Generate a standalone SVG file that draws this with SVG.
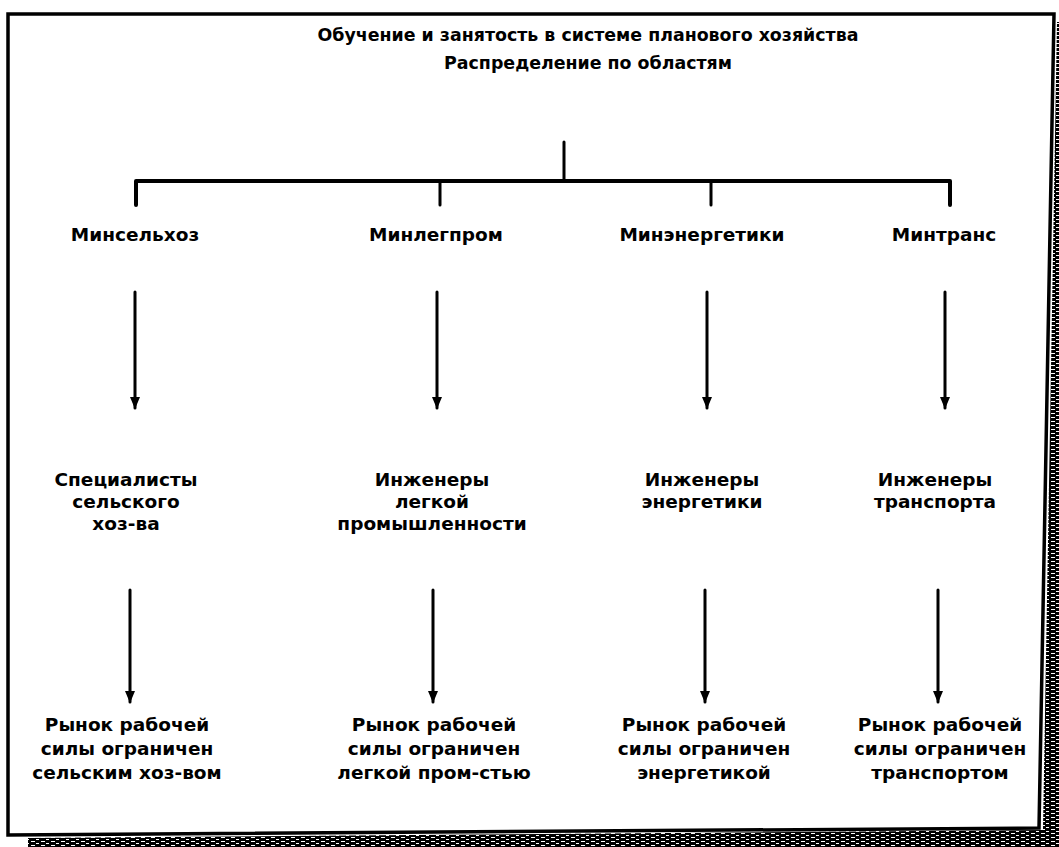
<svg xmlns="http://www.w3.org/2000/svg" width="1059" height="847" viewBox="0 0 1059 847">
  <style>
    .t { font-family: "DejaVu Sans", "Liberation Sans", sans-serif; font-weight: bold; font-size: 18.5px; fill: #000; text-anchor: middle; }
    .h { font-size: 17.4px; }
    .ln { stroke: #000; stroke-width: 3; fill: none; stroke-linecap: round; }
    .bar { stroke-width: 4; stroke-linejoin: round; }
    .frame { stroke: #000; stroke-width: 3.5; fill: #fff; stroke-linejoin: miter; }
  </style>
  <defs>
    <pattern id="dither" width="10" height="4" patternUnits="userSpaceOnUse">
      <rect width="10" height="4" fill="#000"/>
      <rect x="1" y="1" width="4" height="1" fill="#fff"/>
      <rect x="6" y="3" width="3" height="1" fill="#fff"/>
    </pattern>
    <marker id="arrow" viewBox="0 0 12 10" refX="11" refY="5" markerWidth="12" markerHeight="10" markerUnits="userSpaceOnUse" orient="auto">
      <path d="M0,0 L12,5 L0,10 Z" fill="#000"/>
    </marker>
  </defs>

  <rect width="1059" height="847" fill="#fff"/>

  <!-- drop shadow of the frame -->
  <polygon points="1057,22 1059,22 1059,847 28,847 28,838 1043,830" fill="url(#dither)"/>

  <!-- frame -->
  <polygon class="frame" points="8,14 1054,14 1039,828 8,835"/>

  <!-- title -->
  <g id="title">
    <text class="t h" x="588" y="41">Обучение и занятость в системе планового хозяйства</text>
    <text class="t h" x="588" y="69">Распределение по областям</text>
  </g>

  <!-- connectors -->
  <g id="connectors">
    <path class="ln" d="M564,142 V181"/>
    <path class="ln bar" d="M136,205 V181 H950 V205"/>
    <path class="ln" d="M440,181 V205"/>
    <path class="ln" d="M711,181 V205"/>

    <path class="ln" d="M135,292 V408" marker-end="url(#arrow)"/>
    <path class="ln" d="M437,292 V408" marker-end="url(#arrow)"/>
    <path class="ln" d="M707,292 V408" marker-end="url(#arrow)"/>
    <path class="ln" d="M945,292 V408" marker-end="url(#arrow)"/>

    <path class="ln" d="M130,590 V702" marker-end="url(#arrow)"/>
    <path class="ln" d="M433,590 V702" marker-end="url(#arrow)"/>
    <path class="ln" d="M705,590 V702" marker-end="url(#arrow)"/>
    <path class="ln" d="M938,590 V702" marker-end="url(#arrow)"/>
  </g>

  <!-- ministries -->
  <g id="n-minselkhoz"><text class="t" x="135" y="241">Минсельхоз</text></g>
  <g id="n-minlegprom"><text class="t" x="436" y="241">Минлегпром</text></g>
  <g id="n-minenergetiki"><text class="t" x="702" y="241">Минэнергетики</text></g>
  <g id="n-mintrans"><text class="t" x="944" y="241">Минтранс</text></g>

  <!-- specialists -->
  <g id="n-spec-agro">
    <text class="t" x="126" y="486">Специалисты</text>
    <text class="t" x="126" y="508">сельского</text>
    <text class="t" x="126" y="530">хоз-ва</text>
  </g>
  <g id="n-eng-light">
    <text class="t" x="432" y="486">Инженеры</text>
    <text class="t" x="432" y="508">легкой</text>
    <text class="t" x="432" y="530">промышленности</text>
  </g>
  <g id="n-eng-energy">
    <text class="t" x="702" y="486">Инженеры</text>
    <text class="t" x="702" y="508">энергетики</text>
  </g>
  <g id="n-eng-transport">
    <text class="t" x="935" y="486">Инженеры</text>
    <text class="t" x="935" y="508">транспорта</text>
  </g>

  <!-- labour markets -->
  <g id="n-market-agro">
    <text class="t" x="127" y="731">Рынок рабочей</text>
    <text class="t" x="127" y="755">силы ограничен</text>
    <text class="t" x="127" y="779">сельским хоз-вом</text>
  </g>
  <g id="n-market-light">
    <text class="t" x="434" y="731">Рынок рабочей</text>
    <text class="t" x="434" y="755">силы ограничен</text>
    <text class="t" x="434" y="779">легкой пром-стью</text>
  </g>
  <g id="n-market-energy">
    <text class="t" x="704" y="731">Рынок рабочей</text>
    <text class="t" x="704" y="755">силы ограничен</text>
    <text class="t" x="704" y="779">энергетикой</text>
  </g>
  <g id="n-market-transport">
    <text class="t" x="940" y="731">Рынок рабочей</text>
    <text class="t" x="940" y="755">силы ограничен</text>
    <text class="t" x="940" y="779">транспортом</text>
  </g>
</svg>
